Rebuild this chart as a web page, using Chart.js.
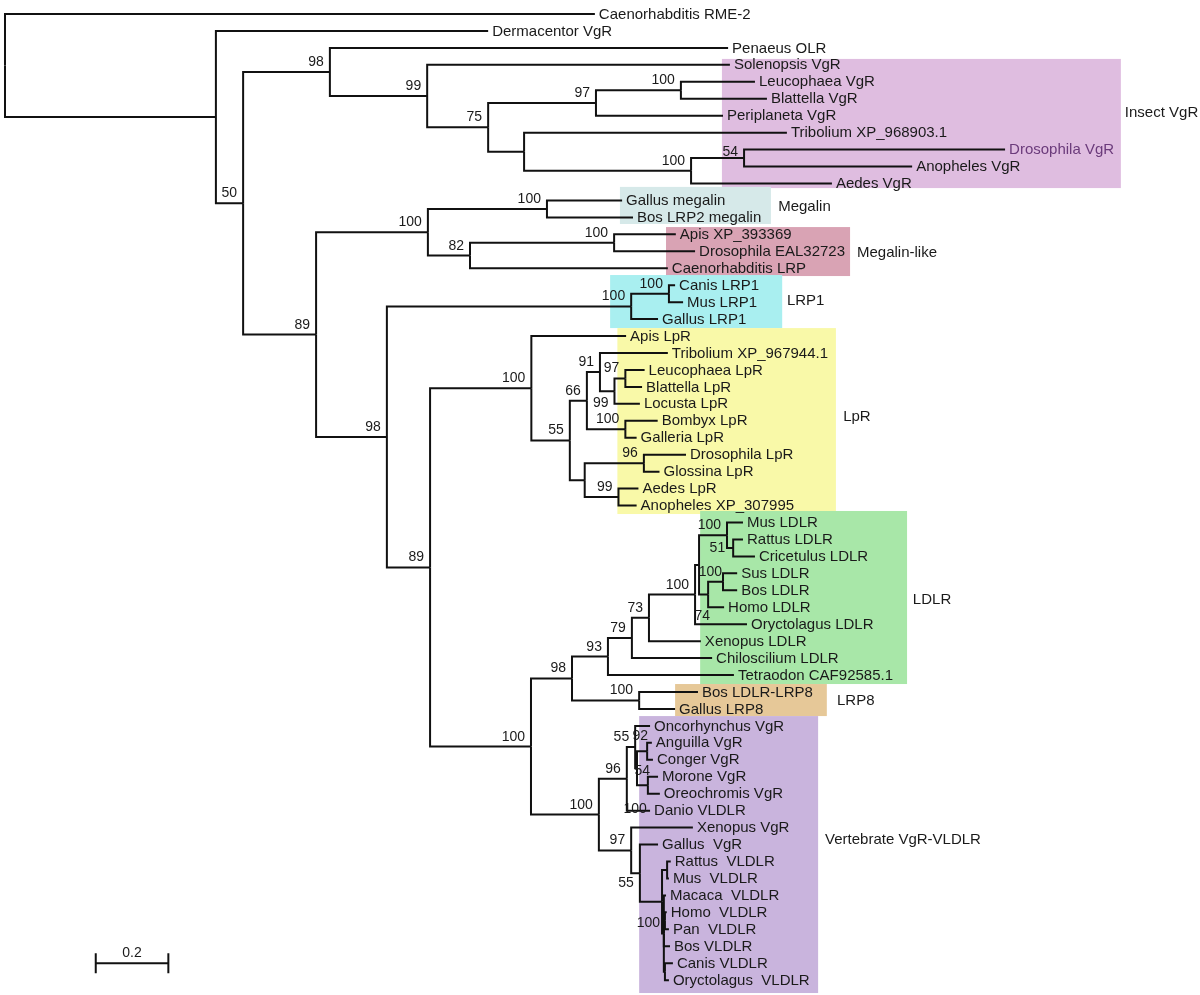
<!DOCTYPE html>
<html>
<head>
<meta charset="utf-8">
<script src="https://cdn.jsdelivr.net/npm/chart.js@4.4.1/dist/chart.umd.min.js"></script>
<style>
  html, body { margin: 0; padding: 0; background: #fff; }
  #wrap { position: relative; width: 1200px; height: 995px; }
</style>
</head>
<body>
<div id="wrap"><canvas id="tree"></canvas></div>
<script>
// ==========================================================
//  LDLR receptor family tree – rectangular phylogram
// ==========================================================

// ---- Leaves (top to bottom) and their distance from the root ----
const taxa = [
  'Caenorhabditis RME-2', 'Dermacentor VgR', 'Penaeus OLR', 'Solenopsis VgR',
  'Leucophaea VgR', 'Blattella VgR', 'Periplaneta VgR', 'Tribolium XP_968903.1',
  'Drosophila VgR', 'Anopheles VgR', 'Aedes VgR',
  'Gallus megalin', 'Bos LRP2 megalin',
  'Apis XP_393369', 'Drosophila EAL32723', 'Caenorhabditis LRP',
  'Canis LRP1', 'Mus LRP1', 'Gallus LRP1',
  'Apis LpR', 'Tribolium XP_967944.1', 'Leucophaea LpR', 'Blattella LpR', 'Locusta LpR',
  'Bombyx LpR', 'Galleria LpR', 'Drosophila LpR', 'Glossina LpR', 'Aedes LpR', 'Anopheles XP_307995',
  'Mus LDLR', 'Rattus LDLR', 'Cricetulus LDLR', 'Sus LDLR', 'Bos LDLR', 'Homo LDLR',
  'Oryctolagus LDLR', 'Xenopus LDLR', 'Chiloscilium LDLR', 'Tetraodon CAF92585.1',
  'Bos LDLR-LRP8', 'Gallus LRP8',
  'Oncorhynchus VgR', 'Anguilla VgR', 'Conger VgR', 'Morone VgR', 'Oreochromis VgR', 'Danio VLDLR',
  'Xenopus VgR', 'Gallus  VgR', 'Rattus  VLDLR', 'Mus  VLDLR', 'Macaca  VLDLR', 'Homo  VLDLR',
  'Pan  VLDLR', 'Bos VLDLR', 'Canis VLDLR', 'Oryctolagus  VLDLR'
];
const tipDepth = [
  1.625, 1.331, 1.992, 1.997, 2.066, 2.099, 1.978, 2.154, 2.755, 2.499, 2.278,
  1.700, 1.730, 1.848, 1.901, 1.826, 1.846, 1.868, 1.799,
  1.711, 1.826, 1.762, 1.755, 1.749, 1.798, 1.740, 1.876, 1.803, 1.745, 1.740,
  2.033, 2.033, 2.066, 2.017, 2.017, 1.981, 2.044, 1.917, 1.948, 2.008,
  1.909, 1.846,
  1.777, 1.782, 1.785, 1.799, 1.804, 1.777,
  1.895, 1.799, 1.834, 1.829, 1.821, 1.823, 1.829, 1.832, 1.840, 1.829
];

// ---- Internal nodes: depth, bootstrap support, children (leaf index or node id) ----
const nodeIds = [
  'root', 'A', 'B', 'n98a', 'n99a', 'n75', 'n97a', 'n100a', 'ntrib', 'n100b', 'n54',
  'C', 'nMeg', 'nMeg100', 'n82', 'nApis', 'n98b', 'nLRP1', 'nCM', 'n89b',
  'nLpR', 'n55a', 'n66', 'n91', 'n99b', 'n97b', 'nBG', 'nDip', 'n96', 'n99c',
  'n100c', 'n98c', 'n93', 'n79', 'n73', 'nLDLR', 'nLDLRin', 'nRod', 'n51', 'n74', 'nSB', 'nLRP8',
  'n100d', 'n96b', 'n55b', 'n54b', 'n92', 'n100e', 'n97c', 'n55c', 'nMam', 'nRM', 'nMam2', 'nHP', 'nCO'
];
const nodeDepth = [
  0, 0.581, 0.656, 0.895, 1.163, 1.331, 1.628, 1.862, 1.430, 1.890, 2.036,
  0.857, 1.165, 1.493, 1.281, 1.678, 1.052, 1.725, 1.829, 1.171,
  1.450, 1.556, 1.603, 1.639, 1.679, 1.709, 1.709, 1.597, 1.760, 1.690,
  1.449, 1.562, 1.661, 1.727, 1.774, 1.901, 1.912, 1.989, 2.006, 1.937, 1.978, 1.747,
  1.636, 1.713, 1.736, 1.741, 1.769, 1.771, 1.725, 1.749, 1.810, 1.824, 1.815, 1.818, 1.818
];
const nodeSupport = [
  '', '', '50', '98', '99', '75', '97', '100', '', '100', '54',
  '89', '100', '100', '82', '100', '98', '100', '100', '89',
  '100', '55', '66', '91', '99', '97', '100', '', '96', '99',
  '100', '98', '93', '79', '73', '100', '', '100', '51', '74', '100', '100',
  '100', '96', '55', '54', '92', '100', '97', '55', '100', '', '', '', ''
];
const nodeKids = [
  [0, 'A'], [1, 'B'], ['n98a', 'C'], [2, 'n99a'], [3, 'n75'], ['n97a', 'ntrib'],
  ['n100a', 6], [4, 5], [7, 'n100b'], ['n54', 10], [8, 9],
  ['nMeg', 'n98b'], ['nMeg100', 'n82'], [11, 12], ['nApis', 15], [13, 14],
  ['nLRP1', 'n89b'], ['nCM', 18], [16, 17], ['nLpR', 'n100c'],
  [19, 'n55a'], ['n66', 'nDip'], ['n91', 'nBG'], [20, 'n99b'], ['n97b', 23], [21, 22],
  [24, 25], ['n96', 'n99c'], [26, 27], [28, 29],
  ['n98c', 'n100d'], ['n93', 'nLRP8'], ['n79', 39], ['n73', 38], ['nLDLR', 37],
  ['nLDLRin', 36], ['nRod', 'n74'], [30, 'n51'], [31, 32], ['nSB', 35], [33, 34], [40, 41],
  ['n96b', 'n97c'], ['n55b', 47], [42, 'n54b'], ['n92', 'n100e'], [43, 44], [45, 46],
  [48, 'n55c'], [49, 'nMam'], ['nRM', 'nMam2'], [50, 51], [52, 'nHP', 55, 'nCO'], [53, 54], [56, 57]
];

// ---- Highlighted clades ----
const cladeNames = ['Insect VgR', 'Megalin', 'Megalin-like', 'LRP1', 'LpR', 'LDLR', 'LRP8', 'Vertebrate VgR-VLDLR'];

// scale bar
const scaleBarStart = 0.25;
const scaleBarLength = 0.2;
const scaleBarRow = 56;

// ---- Layout / style (not data) ----
// box: [depth from, depth to, row from, row to]
const cladeBox = [
  [1.975, 3.074, 2.65, 10.27], [1.694, 2.110, 10.2, 12.39], [1.821, 2.328, 12.57, 15.46],
  [1.667, 2.141, 15.4, 18.53], [1.687, 2.289, 18.53, 29.5], [1.915, 2.485, 29.32, 39.53],
  [1.846, 2.264, 39.53, 41.42], [1.747, 2.240, 41.42, 57.76]
];
const cladeLabelAt = [
  [3.085, 5.84], [2.13, 11.39], [2.347, 14.1], [2.154, 16.9],
  [2.309, 23.78], [2.501, 34.57], [2.292, 40.5], [2.259, 48.73]
];
const cladeColors = ['#dfbde0', '#d6e9e9', '#d9a3b4', '#a9eff0', '#f9f9a8', '#a8e7a8', '#e6c898', '#c9b4dd'];
const labelNudge = {
  n99b: [0, 22], n74: [8, 31], n51: [-2, 10], n54b: [19, 13], n100e: [5, 34],
  n92: [7, -5], n55c: [0, 20], nMam: [4, 31], n54: [0, 4], nSB: [5, 0]
};
const tipColor = { 8: '#6b3b7b' };
const FONT = '"Liberation Sans", Arial, Helvetica, sans-serif';
const LINE = '#111';

// ---- Build node rows (leaf row = index, node row = middle of outer children) ----
const nodeIdx = {};
nodeIds.forEach((id, i) => { nodeIdx[id] = i; });
const nodeRow = {};
function rowOf(k) {
  if (typeof k === 'number') return k;
  if (nodeRow[k] !== undefined) return nodeRow[k];
  const kids = nodeKids[nodeIdx[k]];
  const r = (rowOf(kids[0]) + rowOf(kids[kids.length - 1])) / 2;
  nodeRow[k] = r;
  return r;
}
function depthOf(k) { return typeof k === 'number' ? tipDepth[k] : nodeDepth[nodeIdx[k]]; }
nodeIds.forEach(id => rowOf(id));

// one elbow per branch: node -> down/up to child row -> out to child
const datasets = [];
nodeIds.forEach((id, i) => {
  const d = nodeDepth[i], r = nodeRow[id];
  nodeKids[i].forEach(k => {
    datasets.push({
      data: [{ x: d, y: r }, { x: d, y: rowOf(k) }, { x: depthOf(k), y: rowOf(k) }]
    });
  });
});
datasets.push({ data: [{ x: scaleBarStart, y: scaleBarRow }, { x: scaleBarStart + scaleBarLength, y: scaleBarRow }] });
datasets.push({ data: [{ x: scaleBarStart, y: scaleBarRow - 0.59 }, { x: scaleBarStart, y: scaleBarRow + 0.59 }] });
datasets.push({ data: [{ x: scaleBarStart + scaleBarLength, y: scaleBarRow - 0.59 }, { x: scaleBarStart + scaleBarLength, y: scaleBarRow + 0.59 }] });
datasets.forEach(ds => Object.assign(ds, {
  showLine: true, borderColor: LINE, borderWidth: 2, pointRadius: 0,
  tension: 0, borderJoinStyle: 'miter', borderCapStyle: 'butt', fill: false
}));

// ---- Boxes behind, text on top ----
const treeDecor = {
  id: 'treeDecor',
  beforeDatasetsDraw(chart) {
    const { ctx, scales: { x, y } } = chart;
    ctx.save();
    cladeBox.forEach((b, i) => {
      const x0 = x.getPixelForValue(b[0]), x1 = x.getPixelForValue(b[1]);
      const y0 = y.getPixelForValue(b[2]), y1 = y.getPixelForValue(b[3]);
      ctx.fillStyle = cladeColors[i];
      ctx.fillRect(x0, y0, x1 - x0, y1 - y0);
    });
    ctx.restore();
  },
  afterDatasetsDraw(chart) {
    const { ctx, scales: { x, y } } = chart;
    ctx.save();

    // leaf names
    ctx.font = '15px ' + FONT;
    ctx.textAlign = 'left';
    ctx.textBaseline = 'middle';
    taxa.forEach((t, i) => {
      ctx.fillStyle = tipColor[i] || '#1a1a1a';
      ctx.fillText(t, x.getPixelForValue(tipDepth[i]) + 4, y.getPixelForValue(i) + 0.5);
    });

    // clade names
    ctx.fillStyle = '#1a1a1a';
    cladeNames.forEach((n, i) => {
      ctx.fillText(n, x.getPixelForValue(cladeLabelAt[i][0]), y.getPixelForValue(cladeLabelAt[i][1]));
    });

    // bootstrap values
    ctx.font = '14px ' + FONT;
    ctx.textAlign = 'right';
    ctx.textBaseline = 'alphabetic';
    nodeIds.forEach((id, i) => {
      if (!nodeSupport[i]) return;
      const [dx, dy] = labelNudge[id] || [0, 0];
      ctx.fillText(nodeSupport[i], x.getPixelForValue(nodeDepth[i]) - 6 + dx, y.getPixelForValue(nodeRow[id]) - 6 + dy);
    });

    // scale bar label
    ctx.textAlign = 'center';
    ctx.fillText(String(scaleBarLength), x.getPixelForValue(scaleBarStart + scaleBarLength / 2), y.getPixelForValue(scaleBarRow) - 6);
    ctx.restore();
  }
};

new Chart(document.getElementById('tree'), {
  type: 'scatter',
  data: { datasets },
  options: {
    responsive: true,
    maintainAspectRatio: false,
    animation: false,
    events: [],
    layout: { padding: 0 },
    plugins: { legend: { display: false }, tooltip: { enabled: false } },
    scales: {
      x: { type: 'linear', display: false, min: -0.01377, max: 3.29201 },
      y: { type: 'linear', display: false, reverse: true, min: -0.826, max: 57.876 }
    }
  },
  plugins: [treeDecor]
});
</script>
</body>
</html>
